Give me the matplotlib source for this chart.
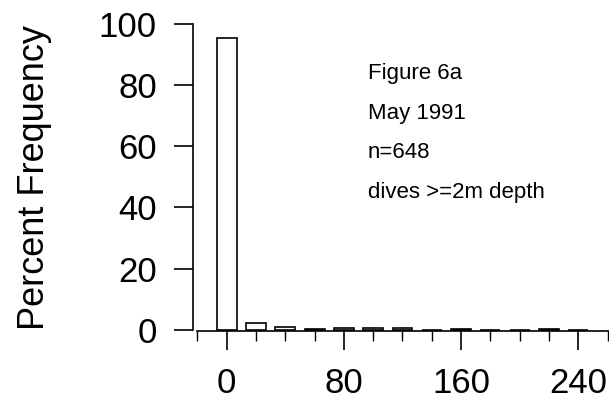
import numpy as np
import matplotlib.pyplot as plt
from matplotlib.ticker import MultipleLocator

# dive duration bins (left value of each 20-unit class) and percent frequency
bins = [0, 20, 40, 60, 80, 100, 120, 140, 160, 180, 200, 220, 240]
percent = [95.5, 2.3, 0.9, 0.2, 0.6, 0.5, 0.6, 0.0, 0.15, 0.0, 0.0, 0.3, 0.0]

notes = ["Figure 6a", "May 1991", "n=648", "dives >=2m depth"]

plt.rcParams['font.family'] = ['Liberation Sans', 'DejaVu Sans']

fig = plt.figure(figsize=(6.09, 4.08), dpi=100)
ax = fig.add_axes([0.317, 0.189, 0.683, 0.752])

ax.bar(bins, percent, width=13.6, color="white", edgecolor="black", linewidth=1.2)

ax.set_xlim(-23, 261)
ax.set_ylim(-0.4, 100)
ax.spines["top"].set_visible(False)
ax.spines["right"].set_visible(False)
ax.spines["left"].set_bounds(0, 100)
ax.spines["bottom"].set_bounds(-20, 261)
ax.spines["left"].set_linewidth(1.2)
ax.spines["bottom"].set_linewidth(1.2)

ax.set_xticks([0, 80, 160, 240])
ax.xaxis.set_minor_locator(MultipleLocator(20))
ax.set_yticks([0, 20, 40, 60, 80, 100])
ax.tick_params(axis="both", which="major", direction="out", length=14, width=1.2,
               labelsize=25, pad=12)
ax.tick_params(axis="x", which="minor", direction="out", length=7, width=1.0)

ax.set_ylabel("Percent Frequency", fontsize=26, labelpad=34)

for i, t in enumerate(notes):
    ax.text(0.42, 0.84 - i * 0.13, t, transform=ax.transAxes, fontsize=16,
            va="center", ha="left")

fig.savefig("out.png", dpi=100)
